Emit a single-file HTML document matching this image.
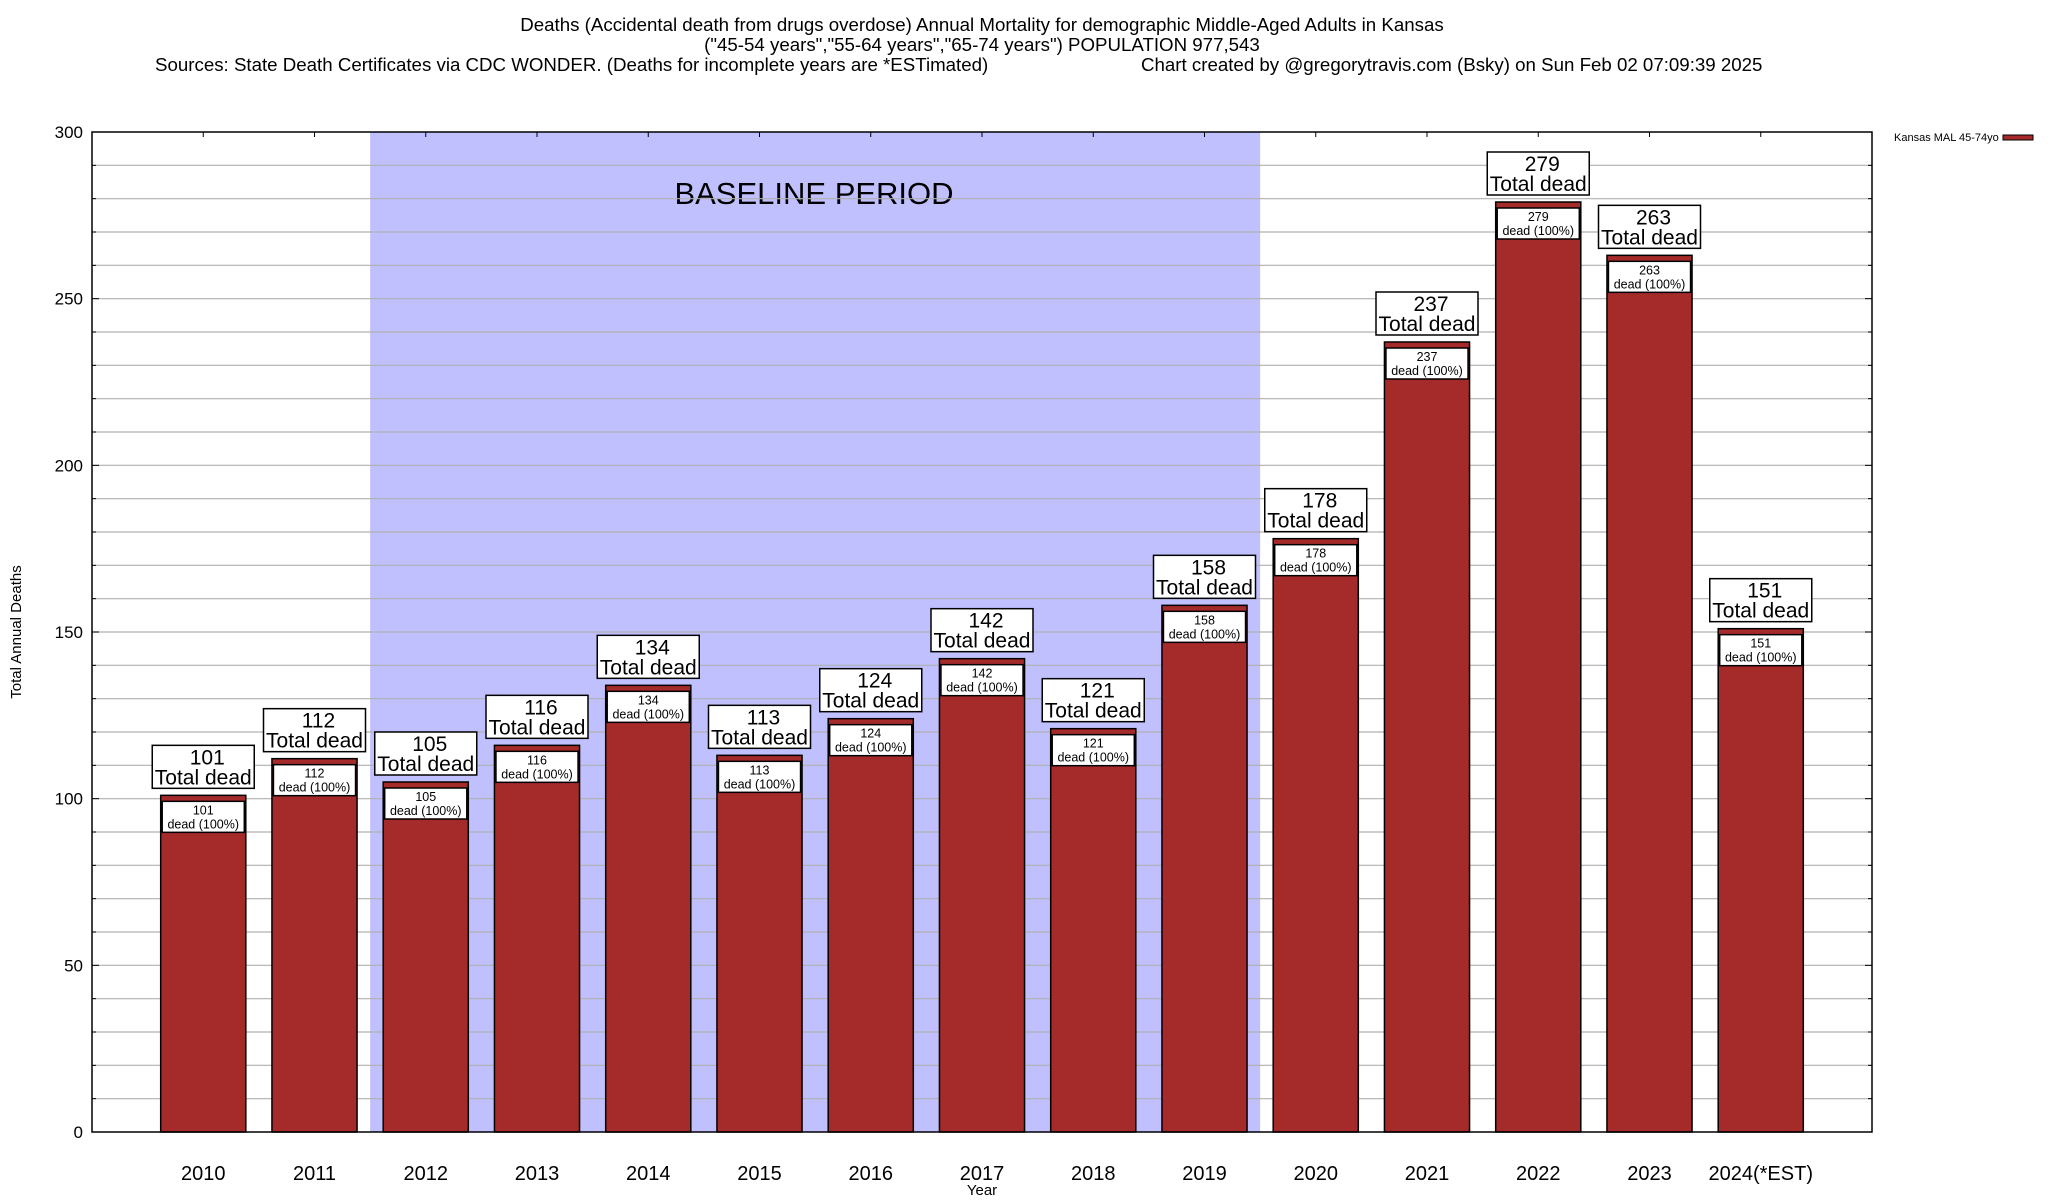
<!DOCTYPE html>
<html><head><meta charset="utf-8"><style>
html,body{margin:0;padding:0;background:#fff;}
svg{display:block;font-family:"Liberation Sans",Arial,sans-serif;}
</style></head><body>
<svg id="chart" width="2048" height="1200" viewBox="0 0 2048 1200" xmlns="http://www.w3.org/2000/svg">
<rect x="0" y="0" width="2048" height="1200" fill="#fff"/>
<g font-size="18.7" fill="#000">
<text x="982" y="31" text-anchor="middle">Deaths (Accidental death from drugs overdose) Annual Mortality for demographic Middle-Aged Adults in Kansas</text>
<text x="982" y="51" text-anchor="middle">("45-54 years","55-64 years","65-74 years") POPULATION 977,543</text>
<text x="155" y="71">Sources: State Death Certificates via CDC WONDER. (Deaths for incomplete years are *ESTimated)</text>
<text x="1141" y="71">Chart created by @gregorytravis.com (Bsky) on Sun Feb 02 07:09:39 2025</text>
</g>
<g id="plot"></g>
<text x="21" y="632" font-size="15" text-anchor="middle" transform="rotate(-90 21 632)">Total Annual Deaths</text>
<text x="982" y="1195" font-size="15" text-anchor="middle">Year</text>
<g>
<text x="1894" y="141" font-size="11">Kansas MAL 45-74yo</text>
<rect x="2003" y="135" width="30" height="5" fill="#a52a2a" stroke="#000" stroke-width="1"/>
</g>
</svg>
<script>
const categories = ["2010","2011","2012","2013","2014","2015","2016","2017","2018","2019","2020","2021","2022","2023","2024(*EST)"];
const deaths = [101,112,105,116,134,113,124,142,121,158,178,237,279,263,151];
const yTicks = [0,50,100,150,200,250,300];
const baselineStart = 2, baselineEnd = 9;

const NS = "http://www.w3.org/2000/svg";
const L = 92, R = 1872, T = 132, B = 1132;
const yMax = 300;
const step = (R - L) / (categories.length + 1);
function xc(i){ return L + step * (i + 1); }
function y(v){ return B - (v / yMax) * (B - T); }
const g = document.getElementById('plot');
function mk(tag, attrs, parent){
  const e = document.createElementNS(NS, tag);
  for (const k in attrs) e.setAttribute(k, attrs[k]);
  (parent || g).appendChild(e);
  return e;
}
const band = mk('rect', {x: xc(baselineStart) - step/2, y: T, width: step * (baselineEnd - baselineStart + 1), height: B - T, fill: '#c0c0ff'});


const bt = mk('text', {x: 814, y: 204, 'font-size': 31, 'text-anchor': 'middle'});
bt.textContent = 'BASELINE PERIOD';


for (let v = 10; v < yMax; v += 10) {
  const gl = mk('line', {x1: L, x2: R, y1: y(v), y2: y(v), stroke: '#b0b0b0', 'stroke-width': 1.2});
  
  
}
for (let v = 0; v <= yMax; v += 10) {
  const len = (v % 50 === 0) ? 7 : 4;
  mk('line', {x1: L, x2: L + len, y1: y(v), y2: y(v), stroke: '#000', 'stroke-width': 1});
  mk('line', {x1: R - len, x2: R, y1: y(v), y2: y(v), stroke: '#000', 'stroke-width': 1});
}
yTicks.forEach(v => {
  const t = mk('text', {x: 83, y: y(v) + 6, 'font-size': 17, 'text-anchor': 'end'});
  t.textContent = v;
  
  
});
const bw = step * 0.765;
categories.forEach((c, i) => {
  const cx = xc(i), v = deaths[i], top = y(v);
  mk('line', {x1: cx, x2: cx, y1: T, y2: T + 5, stroke: '#000', 'stroke-width': 1});
  mk('line', {x1: cx, x2: cx, y1: B, y2: B - 5, stroke: '#000', 'stroke-width': 1});
  const bar = mk('rect', {x: cx - bw/2, y: top, width: bw, height: B - top, fill: '#a52a2a', stroke: '#000', 'stroke-width': 1.5});
  
  
  const ib = mk('rect', {x: cx - bw/2 + 1.5, y: top + 6, width: bw - 3, height: 31, fill: '#fff', stroke: '#000', 'stroke-width': 1.5});
  
  
  const t1 = mk('text', {x: cx, y: top + 19, 'font-size': 12.5, 'text-anchor': 'middle'});
  t1.textContent = v;
  const t2 = mk('text', {x: cx, y: top + 33, 'font-size': 12.5, 'text-anchor': 'middle'});
  t2.textContent = 'dead (100%)';
  const ob = mk('rect', {x: cx - 51, y: top - 50, width: 102, height: 43, fill: '#fff', stroke: '#000', 'stroke-width': 1.5});
  
  
  const t3 = mk('text', {x: cx + 4, y: top - 31, 'font-size': 21, 'text-anchor': 'middle'});
  t3.textContent = v;
  const t4 = mk('text', {x: cx, y: top - 11, 'font-size': 21, 'text-anchor': 'middle'});
  t4.textContent = 'Total dead';
  const xl = mk('text', {x: cx, y: 1180, 'font-size': 20, 'text-anchor': 'middle'});
  xl.textContent = c;
  
  
});
const frame = mk('rect', {x: L, y: T, width: R - L, height: B - T, fill: 'none', stroke: '#000', 'stroke-width': 1.5});


</script>
</body></html>
